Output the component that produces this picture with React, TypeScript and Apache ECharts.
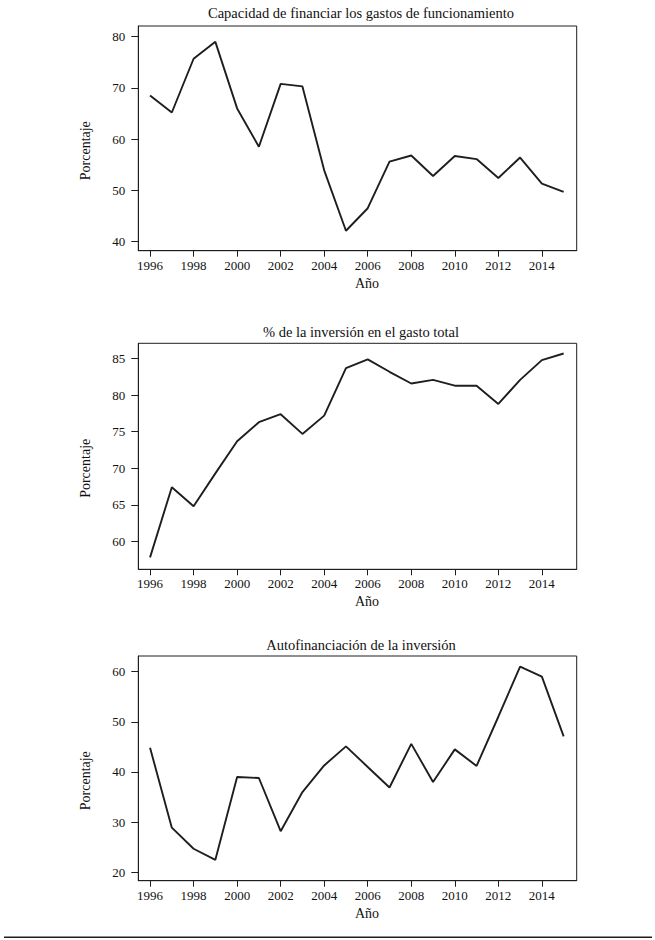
import React, { useEffect, useRef } from "react";
import * as echarts from "echarts";

const years = [1996, 1997, 1998, 1999, 2000, 2001, 2002, 2003, 2004, 2005, 2006, 2007, 2008, 2009, 2010, 2011, 2012, 2013, 2014, 2015];
const capacidad = [68.5, 65.2, 75.7, 79.0, 66.0, 58.5, 70.8, 70.3, 53.9, 42.1, 46.5, 55.6, 56.8, 52.8, 56.7, 56.1, 52.4, 56.4, 51.3, 49.7];
const inversion = [57.8, 67.4, 64.8, 69.3, 73.7, 76.3, 77.4, 74.7, 77.2, 83.7, 84.9, 83.2, 81.6, 82.1, 81.3, 81.3, 78.8, 82.1, 84.8, 85.7];
const autofin = [44.8, 28.9, 24.7, 22.5, 39.0, 38.8, 28.2, 36.0, 41.3, 45.1, 41.0, 36.9, 45.6, 38.0, 44.5, 41.2, 51.0, 61.0, 59.0, 47.1];

const xTicks = [1996, 1998, 2000, 2002, 2004, 2006, 2008, 2010, 2012, 2014];
const yTicks1 = [40, 50, 60, 70, 80];
const yTicks2 = [60, 65, 70, 75, 80, 85];
const yTicks3 = [20, 30, 40, 50, 60];

const titles = [
  "Capacidad de financiar los gastos de funcionamiento",
  "% de la inversión en el gasto total",
  "Autofinanciación de la inversión",
];
const yName = "Porcentaje";
const xName = "Año";

const FONT = "'Liberation Serif', 'DejaVu Serif', serif";
const INK = "#1e1e1e";

export default function App() {
  const ref = useRef<HTMLDivElement>(null);
  useEffect(() => {
    if (!ref.current) return;
    const chart = echarts.init(ref.current, null, { renderer: "svg" });
    const panels = [
      { top: 26, height: 224.7, min: 38.2, max: 82.1, ticks: yTicks1, data: capacidad },
      { top: 343.3, height: 226, min: 56.17, max: 87.1, ticks: yTicks2, data: inversion },
      { top: 656, height: 224.7, min: 18.34, max: 63.1, ticks: yTicks3, data: autofin },
    ];
    const left = 138.3;
    const width = 438.4;
    const grids = panels.map((p) => ({
      left,
      top: p.top,
      width,
      height: p.height,
      show: true,
      borderColor: INK,
      borderWidth: 1,
      backgroundColor: "transparent",
      containLabel: false,
    }));
    const xAxes = panels.map((p, i) => ({
      type: "value",
      gridIndex: i,
      min: 1995.46,
      max: 2015.6,
      splitLine: { show: false },
      axisLine: { show: true, onZero: false, lineStyle: { color: INK, width: 1 } },
      axisTick: { show: true, length: 6, inside: false, customValues: xTicks, lineStyle: { color: INK } },
      axisLabel: {
        show: true,
        customValues: xTicks,
        margin: 8,
        color: "#111",
        fontFamily: FONT,
        fontSize: 13,
        formatter: (v: number) => String(v),
      },
    }));
    const yAxes = panels.map((p, i) => ({
      type: "value",
      gridIndex: i,
      min: p.min,
      max: p.max,
      splitLine: { show: false },
      axisLine: { show: true, onZero: false, lineStyle: { color: INK, width: 1 } },
      axisTick: { show: true, length: 7, inside: false, customValues: p.ticks, lineStyle: { color: INK } },
      axisLabel: {
        show: true,
        customValues: p.ticks,
        margin: 13,
        color: "#111",
        fontFamily: FONT,
        fontSize: 13,
        formatter: (v: number) => String(v),
      },
    }));
    const series = panels.map((p, i) => ({
      type: "line",
      xAxisIndex: i,
      yAxisIndex: i,
      data: years.map((y, k) => [y, p.data[k]]),
      showSymbol: false,
      symbol: "none",
      lineStyle: { color: INK, width: 1.9 },
      silent: true,
    }));
    const titleY = [13.3, 332.3, 645];
    const xNameY = [283, 601.7, 913.3];
    const yNameY = [150.7, 468.3, 780.7];
    const graphics: any[] = [];
    titles.forEach((t, i) => {
      graphics.push({
        type: "text",
        x: 361,
        y: titleY[i],
        style: { text: t, fontFamily: FONT, fontSize: 14.5, fill: "#111", align: "center", verticalAlign: "middle" },
      });
      graphics.push({
        type: "text",
        x: 367,
        y: xNameY[i],
        style: { text: xName, fontFamily: FONT, fontSize: 14, fill: "#111", align: "center", verticalAlign: "middle" },
      });
      graphics.push({
        type: "text",
        x: 85,
        y: yNameY[i],
        rotation: Math.PI / 2,
        style: { text: yName, fontFamily: FONT, fontSize: 14, fill: "#111", align: "center", verticalAlign: "middle" },
      });
    });
    graphics.push({
      type: "line",
      shape: { x1: 4, y1: 937.3, x2: 652, y2: 937.3 },
      style: { stroke: INK, lineWidth: 1.5 },
    });
    chart.setOption({
      animation: false,
      backgroundColor: "#ffffff",
      grid: grids,
      xAxis: xAxes,
      yAxis: yAxes,
      series,
      graphic: graphics,
    });
    return () => chart.dispose();
  }, []);
  return (
    <div
      ref={ref}
      style={{ position: "absolute", left: 0, top: 0, width: 655, height: 940 }}
    />
  );
}
